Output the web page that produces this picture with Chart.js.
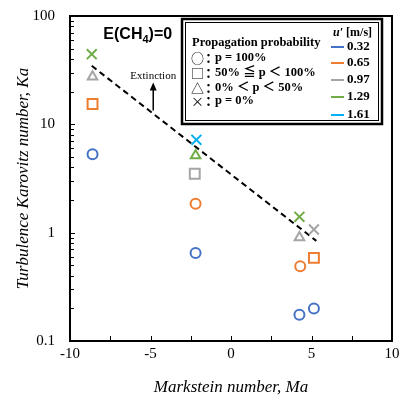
<!DOCTYPE html>
<html>
<head>
<meta charset="utf-8">
<script src="https://cdn.jsdelivr.net/npm/chart.js@4.4.1/dist/chart.umd.min.js"></script>
<style>
  body { margin: 0; background: #fff; }
  #wrap { width: 401px; height: 402px; position: relative; }
</style>
</head>
<body>
<div id="wrap"><canvas id="chartKa"></canvas></div>
<script>
// DATA
const uPrimeLabels = ['0.32', '0.65', '0.97', '1.29', '1.61'];
const seriesColors = ['#4472C4', '#ED7D31', '#A5A5A5', '#70AD47', '#00B0F0'];

// one entry per u' series: Markstein number, Karlovitz number, propagation marker
const ma032 = [-8.6, -2.2, 4.25, 5.15];
const ka032 = [5.3, 0.65, 0.175, 0.2];
const mk032 = ['circle', 'circle', 'circle', 'circle'];

const ma065 = [-8.6, -2.2, 4.3, 5.15];
const ka065 = [15.4, 1.85, 0.49, 0.585];
const mk065 = ['rect', 'circle', 'circle', 'rect'];

const ma097 = [-8.6, -2.25, 4.25, 5.15];
const ka097 = [27.5, 3.5, 0.9, 1.07];
const mk097 = ['triangle', 'rect', 'triangle', 'crossRot'];

const ma129 = [-8.65, -2.2, 4.25];
const ka129 = [44.4, 5.15, 1.4];
const mk129 = ['crossRot', 'triangle', 'crossRot'];

const ma161 = [-2.15];
const ka161 = [7.2];
const mk161 = ['crossRot'];

// extinction boundary (dashed)
const limitMa = [-8.65, 5.3];
const limitKa = [34.7, 0.84];

const xTicks = [-10, -5, 0, 5, 10];
const xMinorTicks = [-7.5, -2.5, 2.5, 7.5];
const yTicks = [0.1, 1, 10, 100];

const propagationTitle = 'Propagation probability';
const propagationSymbols = ['○', '□', '△', '×'];
const propagationTexts = ['p = 100%', '50% ≦ p ＜ 100%', '0% ＜ p ＜ 50%', 'p = 0%'];

// HELPERS
function toPoints(xs, ys) {
    return xs.map((x, i) => ({ x: x, y: ys[i] }));
}

function markerRadius(style) {
    if (style === 'rect' || style === 'crossRot') return 7;
    if (style === 'triangle') return 5.5;
    return 5;
}

const seriesMa = [ma032, ma065, ma097, ma129, ma161];
const seriesKa = [ka032, ka065, ka097, ka129, ka161];
const seriesMk = [mk032, mk065, mk097, mk129, mk161];

const datasets = uPrimeLabels.map((label, i) => ({
    label: label,
    data: toPoints(seriesMa[i], seriesKa[i]),
    pointStyle: seriesMk[i],
    pointRadius: seriesMk[i].map(markerRadius),
    borderColor: seriesColors[i],
    backgroundColor: 'rgba(0,0,0,0)',
    pointBorderWidth: 2,
    showLine: false
}));

datasets.push({
    label: 'limit',
    data: toPoints(limitMa, limitKa),
    showLine: true,
    borderColor: '#000',
    borderWidth: 2,
    borderDash: [6, 4],
    pointRadius: 0
});

const serif = '"Liberation Serif", "Times New Roman", serif';
const cjk = '"Noto Sans CJK JP", sans-serif';

// plugin: frame, inner ticks, annotations and the legend box
const decorations = {
    id: 'decorations',
    afterDraw(chart) {
        const { ctx, chartArea: a, scales: { x, y } } = chart;
        ctx.save();

        // inner tick marks
        ctx.strokeStyle = '#000';
        ctx.lineWidth = 1;
        ctx.beginPath();
        xTicks.concat(xMinorTicks).forEach(v => {
            const px = Math.round(x.getPixelForValue(v)) + 0.5;
            ctx.moveTo(px, a.bottom);
            ctx.lineTo(px, a.bottom - 5);
        });
        for (let e = -1; e < 2; e++) {
            for (let m = 1; m < 10; m++) {
                const py = Math.round(y.getPixelForValue(m * Math.pow(10, e))) + 0.5;
                ctx.moveTo(a.left, py);
                ctx.lineTo(a.left + (m === 1 ? 5 : 4), py);
            }
        }
        ctx.stroke();

        // frame
        ctx.lineWidth = 2;
        ctx.strokeRect(a.left, a.top, a.right - a.left, a.bottom - a.top);

        // E(CH4)=0
        ctx.fillStyle = '#000';
        ctx.textBaseline = 'middle';
        ctx.textAlign = 'left';
        let tx = x.getPixelForValue(-7.93);
        const ty = y.getPixelForValue(66.8);
        ctx.font = 'bold 16px "Liberation Sans", Arial, sans-serif';
        ctx.fillText('E(CH', tx, ty);
        tx += ctx.measureText('E(CH').width;
        ctx.font = 'bold 11px "Liberation Sans", Arial, sans-serif';
        ctx.fillText('4', tx, ty + 5);
        tx += ctx.measureText('4').width;
        ctx.font = 'bold 16px "Liberation Sans", Arial, sans-serif';
        ctx.fillText(')=0', tx, ty);

        // Extinction arrow
        const ax = x.getPixelForValue(-4.83);
        const aTop = y.getPixelForValue(24.3);
        const aBot = y.getPixelForValue(13.4);
        ctx.font = '11px ' + serif;
        ctx.textAlign = 'center';
        ctx.fillText('Extinction', ax, y.getPixelForValue(28));
        ctx.lineWidth = 1.5;
        ctx.beginPath();
        ctx.moveTo(ax, aBot);
        ctx.lineTo(ax, aTop + 5);
        ctx.stroke();
        ctx.beginPath();
        ctx.moveTo(ax, aTop);
        ctx.lineTo(ax - 3.5, aTop + 8);
        ctx.lineTo(ax + 3.5, aTop + 8);
        ctx.closePath();
        ctx.fill();

        // legend box (thick outer line, thin inner line)
        const bx = 182, by = 19, bw = 200, bh = 105;
        ctx.lineWidth = 2.5;
        ctx.strokeRect(bx, by, bw, bh);
        ctx.lineWidth = 1;
        ctx.strokeRect(bx + 3.5, by + 3.5, bw - 7, bh - 7);

        ctx.textAlign = 'left';
        ctx.font = 'bold 12.5px ' + serif;
        ctx.fillText(propagationTitle, 192, 43);
        const rowY = [58, 73, 88, 101];
        propagationSymbols.forEach((s, i) => {
            ctx.font = '13px ' + cjk;
            ctx.fillText(s, 191, rowY[i]);
            ctx.font = 'bold 13px ' + cjk;
            ctx.fillText('：', 202, rowY[i]);
            ctx.font = 'bold 12.5px ' + serif + ', ' + cjk;
            ctx.fillText(propagationTexts[i], 215, rowY[i]);
        });

        // u' header
        ctx.font = 'italic bold 12px ' + serif;
        ctx.fillText("u′", 333, 33);
        const uw = ctx.measureText("u′").width;
        ctx.font = 'bold 12px ' + serif;
        ctx.fillText(' [m/s]', 333 + uw, 33);

        const legY = [47, 63, 80, 97, 115];
        ctx.font = 'bold 13px ' + serif;
        uPrimeLabels.forEach((t, i) => {
            ctx.strokeStyle = seriesColors[i];
            ctx.lineWidth = 2;
            ctx.beginPath();
            ctx.moveTo(331, legY[i]);
            ctx.lineTo(344, legY[i]);
            ctx.stroke();
            ctx.fillText(t, 347, legY[i]);
        });

        ctx.restore();
    }
};

const chart = new Chart(document.getElementById('chartKa'), {
    type: 'scatter',
    data: { datasets: datasets },
    options: {
        responsive: true,
        maintainAspectRatio: false,
        animation: false,
        layout: { padding: { top: 15, right: 9, left: 0, bottom: 0 } },
        plugins: { legend: { display: false }, tooltip: { enabled: false } },
        scales: {
            x: {
                type: 'linear',
                min: -10,
                max: 10,
                afterBuildTicks: s => { s.ticks = xTicks.map(v => ({ value: v })); },
                afterFit: s => { s.height = 61; },
                grid: { display: false },
                border: { display: false },
                ticks: {
                    color: '#000',
                    padding: -4,
                    maxRotation: 0,
                    font: { family: serif, size: 15 },
                    callback: v => String(v)
                },
                title: {
                    display: true,
                    text: 'Markstein number, Ma',
                    color: '#000',
                    padding: { top: 0, bottom: 4 },
                    font: { family: serif, size: 17, style: 'italic' }
                }
            },
            y: {
                type: 'logarithmic',
                min: 0.1,
                max: 100,
                afterBuildTicks: s => { s.ticks = yTicks.map(v => ({ value: v })); },
                afterFit: s => { s.width = 70; },
                grid: { display: false },
                border: { display: false },
                ticks: {
                    color: '#000',
                    padding: 7,
                    font: { family: serif, size: 15 },
                    callback: v => String(v)
                },
                title: {
                    display: true,
                    text: 'Turbulence Karovitz number, Ka',
                    color: '#000',
                    padding: { top: 13, bottom: 0 },
                    font: { family: serif, size: 17, style: 'italic' }
                }
            }
        }
    },
    plugins: [decorations]
});
</script>
</body>
</html>
